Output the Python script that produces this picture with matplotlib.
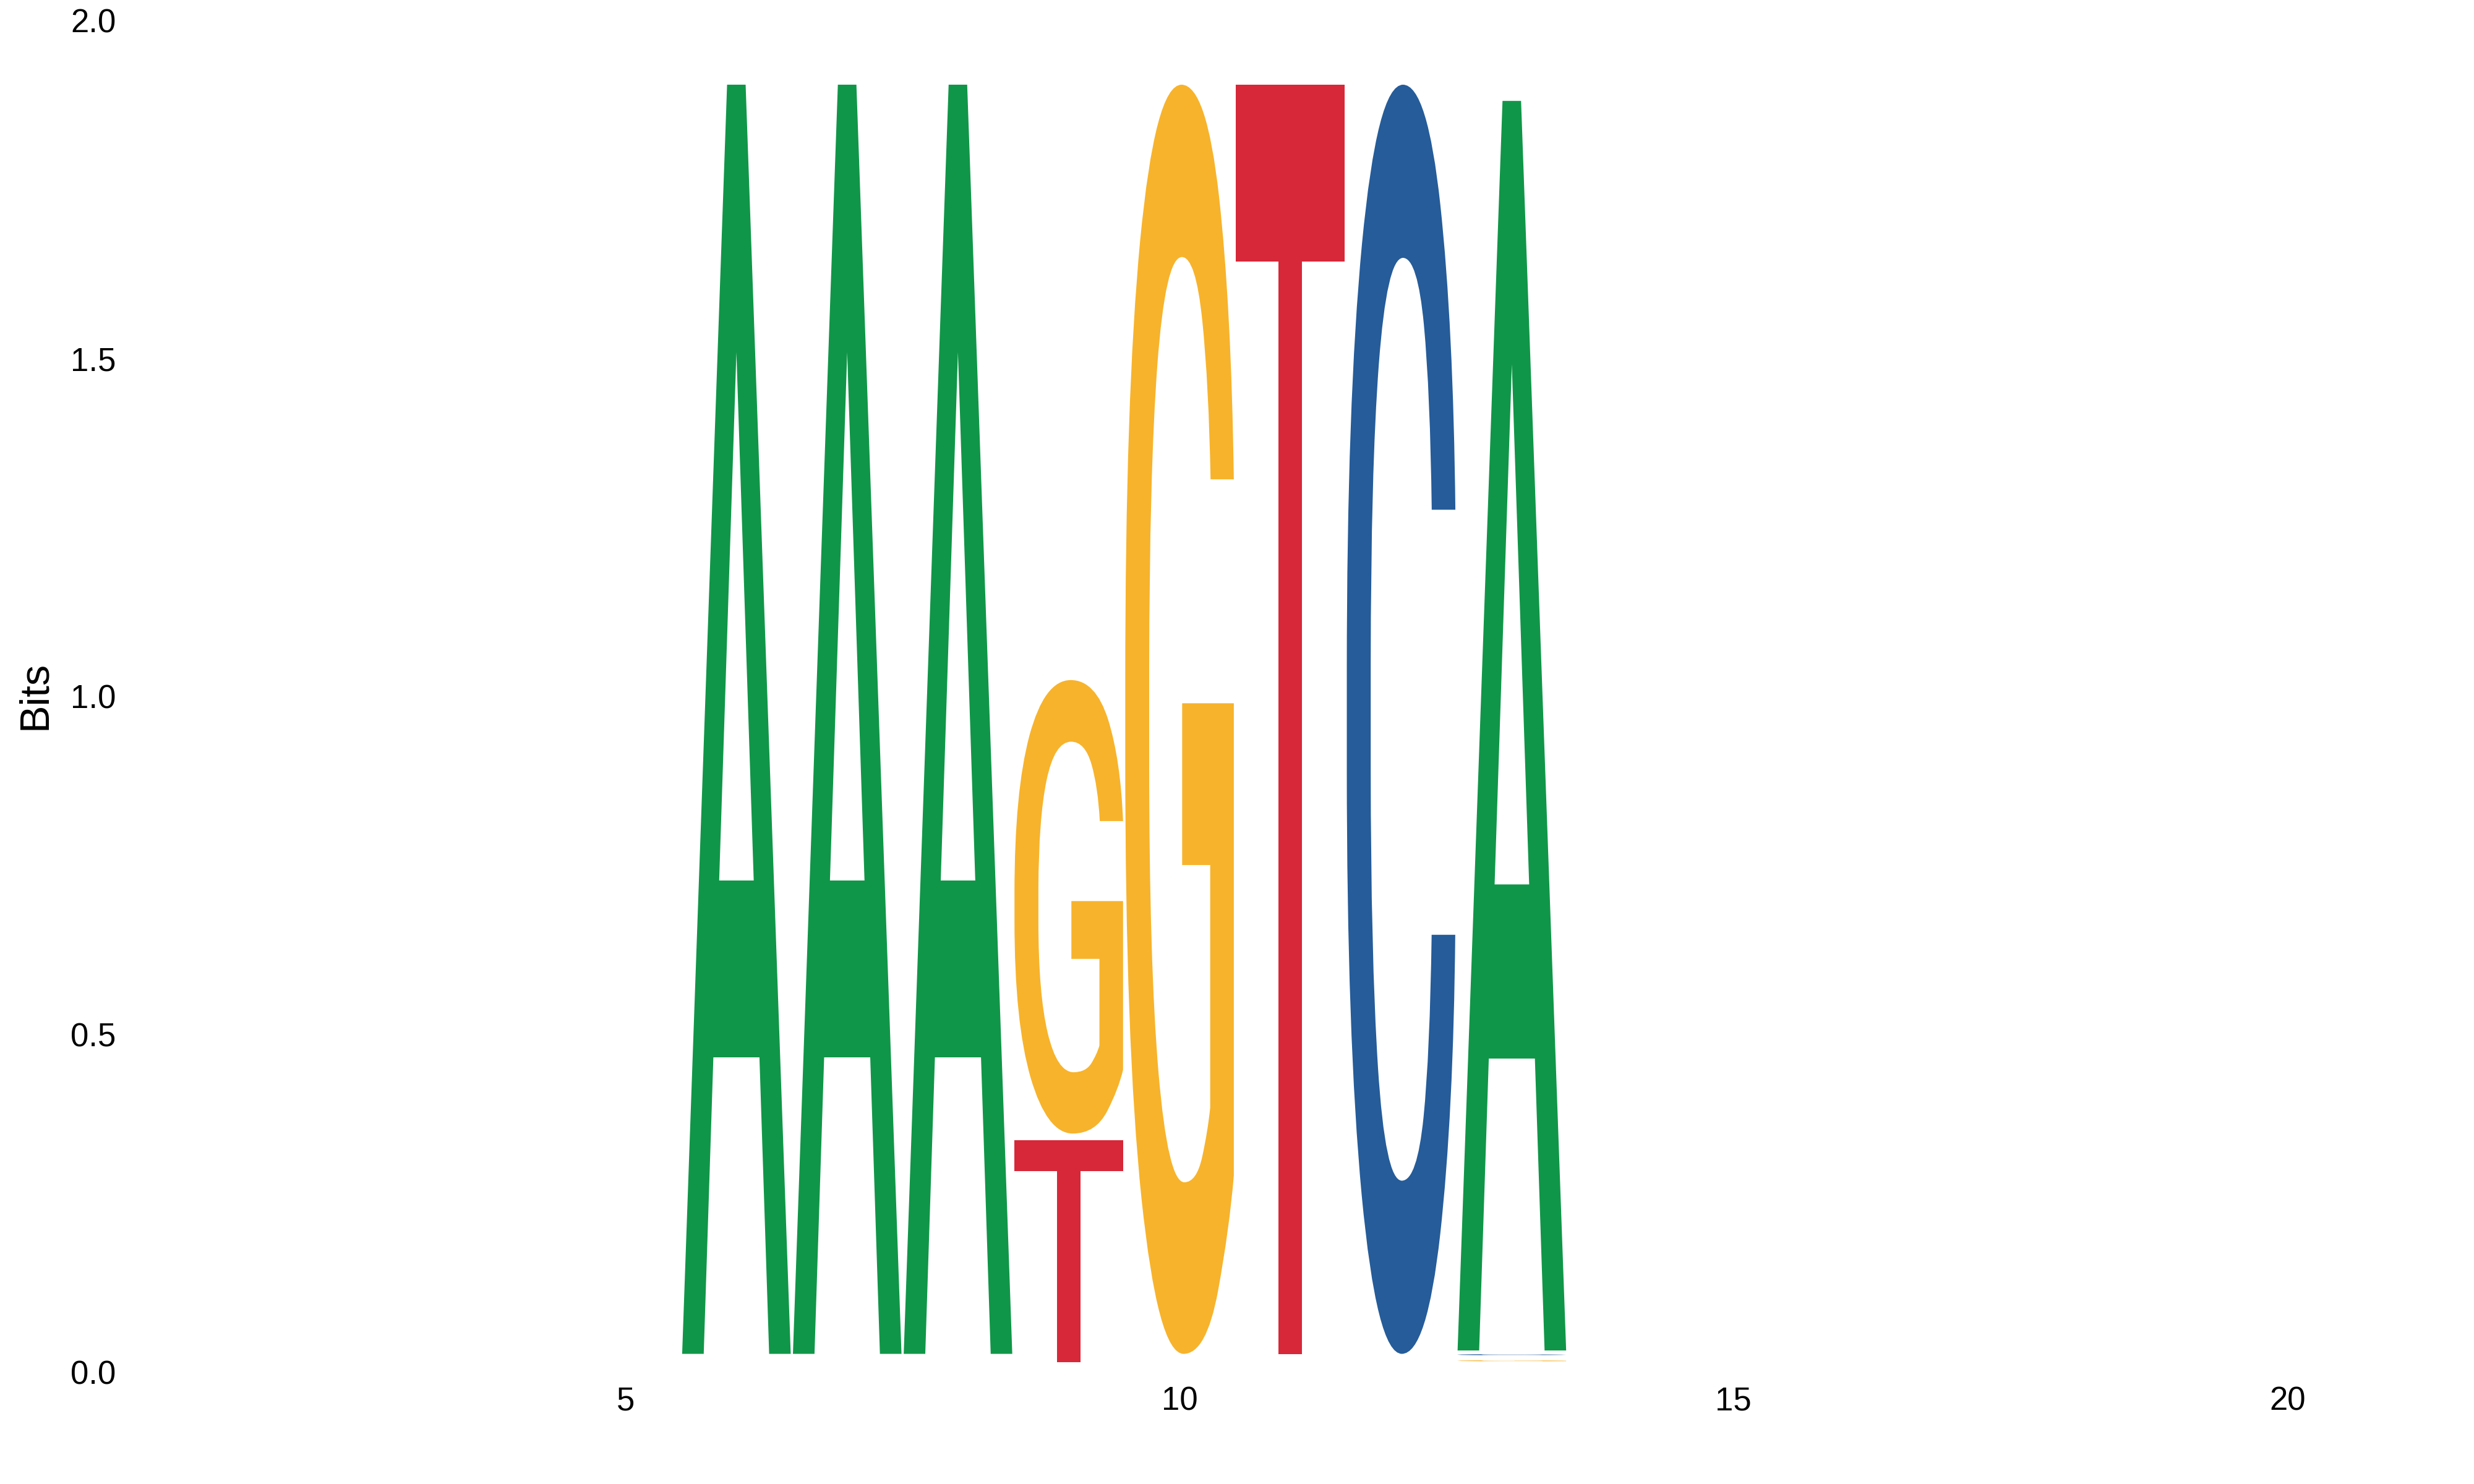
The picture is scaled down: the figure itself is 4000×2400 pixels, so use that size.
import matplotlib
matplotlib.use('Agg')
import matplotlib.pyplot as plt
from matplotlib.textpath import TextPath
from matplotlib.patches import PathPatch
from matplotlib.font_manager import FontProperties
from matplotlib.transforms import Affine2D

# sequence logo data (bits), one entry per drawn letter
letter_pos = [6, 7, 8, 9, 9, 10, 11, 12, 13, 13, 13]
letter_chr = ['A', 'A', 'A', 'T', 'G', 'G', 'T', 'C', 'G', 'C', 'A']
letter_lo = [0.027, 0.027, 0.027, 0.015, 0.353, 0.027, 0.027, 0.027, 0.016, 0.025, 0.032]
letter_hi = [1.905, 1.905, 1.905, 0.343, 1.024, 1.905, 1.905, 1.905, 0.0175, 0.0265, 1.881]

x_ticks = [5, 10, 15, 20]
y_ticks = [0.0, 0.5, 1.0, 1.5, 2.0]

colors = {'A': '#109648', 'C': '#255C99', 'G': '#F7B32B', 'T': '#D62839'}

glyph_font = FontProperties(family='Roboto', weight='medium')
letter_width = 0.98


def draw_letter(ax, ch, xc, y0, y1):
    path = TextPath((0, 0), ch, size=1, prop=glyph_font)
    bb = path.get_extents()
    tr = (Affine2D()
          .translate(-bb.x0, -bb.y0)
          .scale(letter_width / bb.width, (y1 - y0) / bb.height)
          .translate(xc - letter_width / 2, y0))
    ax.add_patch(PathPatch(tr.transform_path(path), facecolor=colors[ch],
                           edgecolor='none', lw=0))


fig = plt.figure(figsize=(20, 12), dpi=200)
ax = fig.add_axes([0.0514, 0.0754, 0.9403, 0.9108])

for p, ch, lo, hi in zip(letter_pos, letter_chr, letter_lo, letter_hi):
    draw_letter(ax, ch, p, lo, hi)

ax.set_xlim(0.5, 21.5)
ax.set_ylim(0, 2)
ax.set_xticks(x_ticks)
ax.set_xticklabels([str(t) for t in x_ticks])
ax.set_yticks(y_ticks)
ax.set_yticklabels([f'{t:.1f}' for t in y_ticks])

for s in ax.spines.values():
    s.set_visible(False)
ax.tick_params(axis='both', length=0, labelsize=19, labelcolor='black')
ax.tick_params(axis='x', pad=8)
ax.tick_params(axis='y', pad=6.5)
for lbl in ax.get_xticklabels() + ax.get_yticklabels():
    lbl.set_family('Liberation Sans')

fig.text(57 / 4000, 1 - 1124 / 2400, 'Bits', rotation=90, ha='center', va='center',
         fontsize=24, family='Liberation Sans', color='black')

fig.savefig('out.png', dpi=200, facecolor='white')
